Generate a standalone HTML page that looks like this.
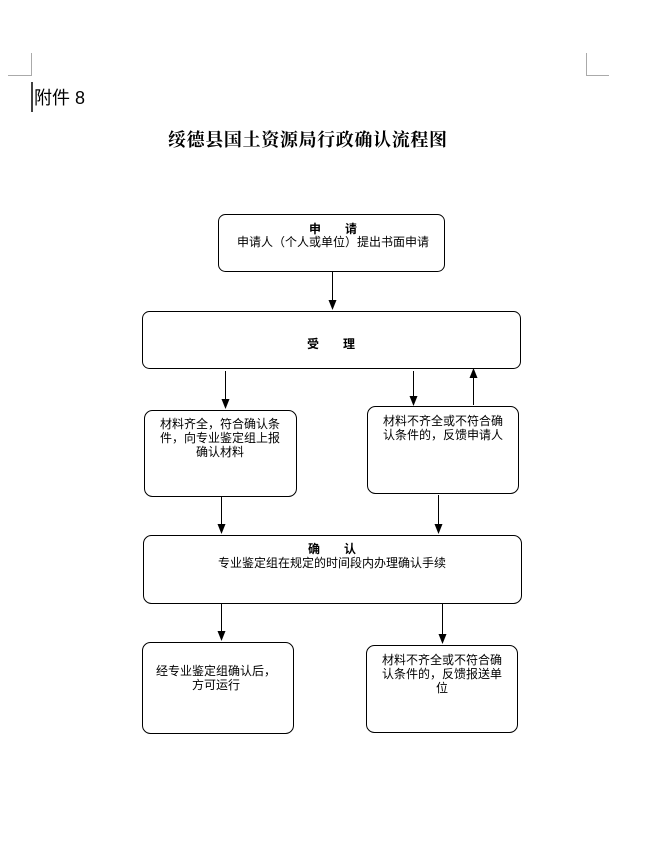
<!DOCTYPE html>
<html><head><meta charset="utf-8"><style>
html,body{margin:0;padding:0;background:#fff;}
svg{display:block;}
text{font-family:"Liberation Sans","Noto Sans CJK SC",sans-serif;fill:#000;}
</style></head><body>
<svg width="653" height="847" viewBox="0 0 653 847" xmlns="http://www.w3.org/2000/svg">
<g stroke="#aaa" fill="none" stroke-width="1">
<path d="M31.5,53 V75.5 H8"/><path d="M586.5,53 V75.5 H609"/>
</g>
<line x1="32" y1="82" x2="32" y2="112" stroke="#000" stroke-width="1.5"/>
<text x="34" y="104" font-size="18">附件 8</text>
<text x="168" y="146" font-size="18" font-weight="bold" textLength="279" style="font-family:'Noto Serif CJK SC',serif">绥德县国土资源局行政确认流程图</text>
<g fill="none" stroke="#000" stroke-width="1">
<rect x="218.5" y="214.5" width="226" height="57" rx="7"/>
<rect x="142.5" y="311.5" width="378" height="57" rx="7"/>
<rect x="144.5" y="410.5" width="152" height="86" rx="8"/>
<rect x="367.5" y="406.5" width="151" height="87" rx="8"/>
<rect x="143.5" y="535.5" width="378" height="68" rx="8"/>
<rect x="142.5" y="642.5" width="151" height="91" rx="8"/>
<rect x="366.5" y="645.5" width="151" height="87" rx="8"/>
<line x1="332.5" y1="272" x2="332.5" y2="302"/>
<line x1="225.5" y1="371" x2="225.5" y2="401"/>
<line x1="413.5" y1="371" x2="413.5" y2="398"/>
<line x1="473.5" y1="405" x2="473.5" y2="377"/>
<line x1="221.5" y1="497" x2="221.5" y2="526"/>
<line x1="438.5" y1="495" x2="438.5" y2="526"/>
<line x1="221.5" y1="604" x2="221.5" y2="633"/>
<line x1="442.5" y1="604" x2="442.5" y2="636"/>
</g>
<g fill="#000">
<polygon points="328.5,300 336.5,300 332.5,310"/>
<polygon points="221.5,399 229.5,399 225.5,409"/>
<polygon points="409.5,396 417.5,396 413.5,406"/>
<polygon points="469.5,378 477.5,378 473.5,368"/>
<polygon points="217.5,524 225.5,524 221.5,534"/>
<polygon points="434.5,524 442.5,524 438.5,534"/>
<polygon points="217.5,631 225.5,631 221.5,641"/>
<polygon points="438.5,634 446.5,634 442.5,644"/>
</g>
<g font-size="12" text-anchor="middle">
<text x="333" y="233" font-weight="bold">申　　请</text>
<text x="333" y="246">申请人（个人或单位）提出书面申请</text>
<text x="331" y="348" font-weight="bold">受　　理</text>
<text x="220" y="428">材料齐全，符合确认条</text>
<text x="220" y="442">件，向专业鉴定组上报</text>
<text x="220" y="456">确认材料</text>
<text x="443" y="425">材料不齐全或不符合确</text>
<text x="443" y="439">认条件的，反馈申请人</text>
<text x="332" y="553" font-weight="bold">确　　认</text>
<text x="332" y="567">专业鉴定组在规定的时间段内办理确认手续</text>
<text x="216" y="675">经专业鉴定组确认后，</text>
<text x="216" y="689">方可运行</text>
<text x="442" y="664">材料不齐全或不符合确</text>
<text x="442" y="678">认条件的，反馈报送单</text>
<text x="442" y="692">位</text>
</g>
</svg>
</body></html>
